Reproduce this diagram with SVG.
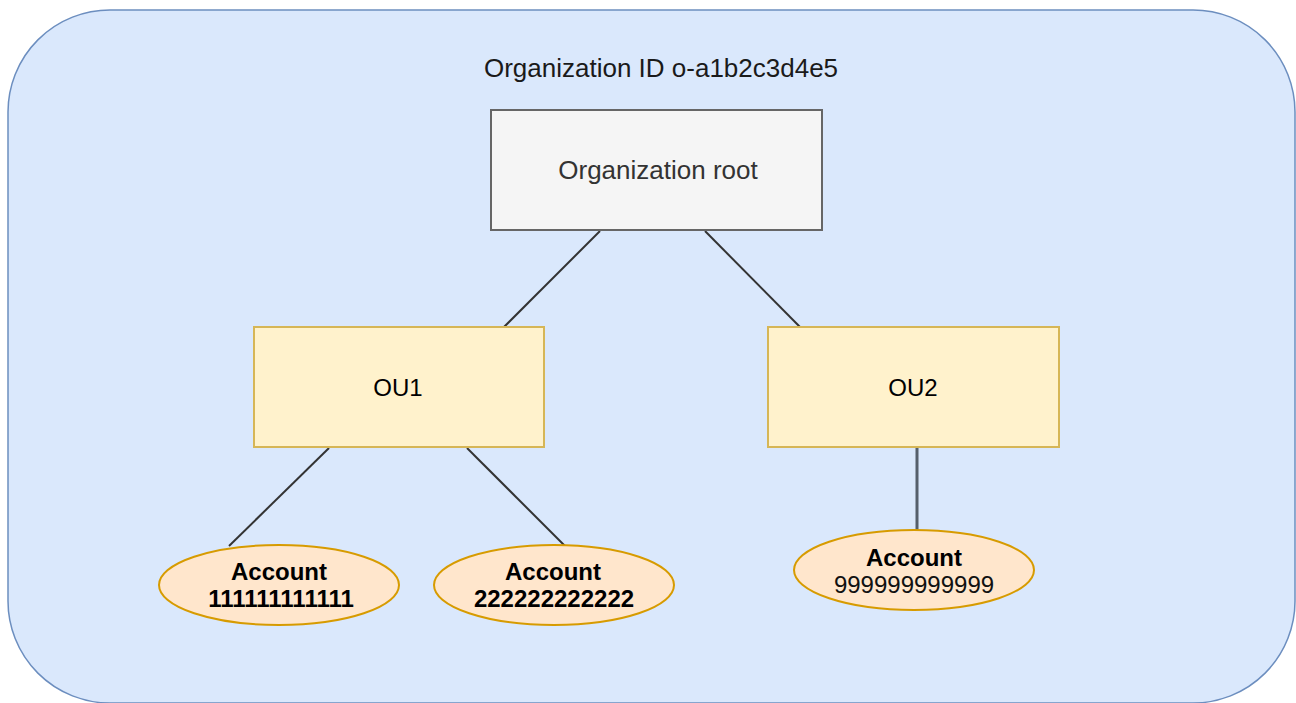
<svg xmlns="http://www.w3.org/2000/svg" width="1296" height="703" viewBox="0 0 1296 703">
<style>
text{font-family:"Liberation Sans",Arial,sans-serif;font-size:24px;text-anchor:middle}
.ou{fill:#fff2cc;stroke:#d6b656;stroke-width:2}
.acc{fill:#ffe6cc;stroke:#d79b00;stroke-width:2}
.b{font-weight:bold;fill:#000}
.edge{stroke:#333;stroke-width:2;fill:none}
</style>
<rect width="1296" height="703" fill="#ffffff"/>
<g id="org">
<rect x="8" y="10" width="1287" height="693" rx="102" ry="102" fill="#dae8fc" stroke="#6c8ebf" stroke-width="1.5"/>
<text x="661" y="77" fill="#1a1a1a" style="font-size:26px">Organization ID o-a1b2c3d4e5</text>
</g>
<g id="connectors">
<line class="edge" x1="600" y1="231" x2="504" y2="327"/>
<line class="edge" x1="705" y1="231" x2="800" y2="327" stroke="#444"/>
<line class="edge" x1="329" y1="448" x2="229" y2="546"/>
<line class="edge" x1="467" y1="448" x2="565" y2="546"/>
<line class="edge" x1="917" y1="448" x2="917" y2="530" style="stroke:#555f6b;stroke-width:3"/>
</g>
<g id="root">
<rect x="491" y="110" width="331" height="120" fill="#f5f5f5" stroke="#666666" stroke-width="2"/>
<text x="658" y="179" fill="#333333" style="font-size:26px">Organization root</text>
</g>
<g id="ou1">
<rect class="ou" x="254" y="327" width="290" height="120"/>
<text x="398" y="396" fill="#000">OU1</text>
</g>
<g id="ou2">
<rect class="ou" x="768" y="327" width="291" height="120"/>
<text x="913" y="396" fill="#000">OU2</text>
</g>
<g id="acct1">
<ellipse class="acc" cx="279" cy="585" rx="120" ry="40"/>
<text class="b" x="279" y="580">Account</text>
<text class="b" x="281" y="607">111111111111</text>
</g>
<g id="acct2">
<ellipse class="acc" cx="554" cy="585" rx="120" ry="40"/>
<text class="b" x="553" y="580">Account</text>
<text class="b" x="554" y="607">222222222222</text>
</g>
<g id="acct3">
<ellipse class="acc" cx="914" cy="570" rx="120" ry="40"/>
<text class="b" x="914" y="566">Account</text>
<text x="914" y="593" fill="#111">999999999999</text>
</g>
</svg>
